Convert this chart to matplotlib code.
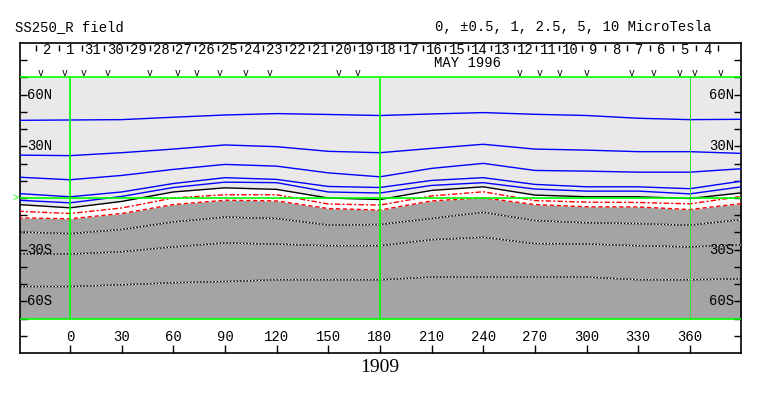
import numpy as np
import matplotlib.pyplot as plt

plt.rcParams['font.family'] = ['Liberation Mono', 'DejaVu Sans Mono']

# longitude of the samples (deg), -30 .. 390
lons = [-30, 0, 30, 60, 90, 120, 150, 180, 210, 240, 270, 300, 330, 360, 390]

# latitude of each contour level (MicroTesla)
b_p10 = [45.1, 45.3, 45.5, 46.9, 48.2, 49.0, 48.5, 47.9, 48.8, 49.6, 48.6, 47.9, 46.3, 45.5, 45.7]
b_p5 = [24.9, 24.6, 26.3, 28.4, 30.8, 29.8, 27.1, 26.3, 28.8, 31.2, 28.4, 27.8, 26.9, 26.9, 25.9]
b_p2_5 = [12.1, 10.6, 13.1, 16.6, 19.5, 18.5, 14.6, 12.3, 17.2, 20.1, 16.0, 15.6, 15.0, 15.0, 17.0]
b_p1 = [2.6, 0.7, 3.5, 8.4, 11.8, 10.8, 6.7, 6.1, 10.2, 11.8, 7.9, 6.5, 6.5, 5.4, 9.8]
b_p0_5 = [-1.3, -2.8, 0.9, 6.1, 9.2, 8.9, 3.5, 2.9, 7.3, 8.9, 5.2, 4.0, 4.0, 2.4, 6.5]
b_0 = [-3.8, -5.7, -2.0, 3.5, 5.9, 5.0, 0.0, -0.9, 4.4, 6.5, 1.7, 0.7, 0.7, -0.3, 3.0]
b_m0_5 = [-7.7, -9.0, -5.8, 0.0, 1.9, 1.9, -3.5, -4.1, 1.2, 3.6, -1.5, -2.4, -2.6, -3.4, 0.9]
b_m1 = [-11.5, -12.1, -9.0, -3.8, -1.3, -1.7, -6.1, -7.0, -1.7, 0.1, -3.8, -5.1, -5.2, -6.7, -3.2]
b_m2_5 = [-19.7, -20.7, -18.3, -13.9, -11.1, -11.9, -15.7, -15.4, -11.9, -8.3, -13.1, -14.4, -14.9, -15.8, -12.5]
b_m5 = [-32.5, -32.5, -31.2, -28.4, -26.1, -26.8, -27.7, -27.7, -24.2, -22.8, -26.5, -26.7, -27.7, -28.4, -27.1]
b_m10 = [-51.4, -51.4, -50.4, -49.2, -48.5, -47.5, -47.5, -47.5, -45.9, -45.9, -45.9, -45.9, -47.5, -47.5, -46.9]

# days of May 1996 along the top band (west to east)
days = ["2", "1", "31", "30", "29", "28", "27", "26", "25", "24", "23", "22", "21", "20", "19",
        "18", "17", "16", "15", "14", "13", "12", "11", "10", "9", "8", "7", "6", "5", "4"]

# longitudes of the "v" marks
v_lons = [-17.0, -3.3, 8.1, 21.7, 46.5, 62.5, 73.6, 87.1, 102.2, 115.7, 156.2, 166.8,
          261.3, 272.5, 284.6, 300.1, 326.2, 339.1, 354.2, 362.9, 377.9]

lon_ticks = list(range(0, 361, 30))
lat_labels = [(60, "60N"), (30, "30N"), (-30, "30S"), (-60, "60S")]

W, H = 763, 396
fs = 10
fig = plt.figure(figsize=(W / 100, H / 100), dpi=100)
ax = fig.add_axes([20 / W, 43 / H, 721 / W, 310 / H])
x0, x1 = -29, 389.7
ax.set_xlim(x0, x1)
ax.set_ylim(-90, 90)

# background shading
ax.fill_between(lons, b_0, 70, color='#e9e9e9', lw=0, zorder=1)
ax.fill_between(lons, -70, b_m1, color='#a4a4a4', lw=0, zorder=1)

# contours
for b in [b_p10, b_p5, b_p2_5, b_p1, b_p0_5]:
    ax.plot(lons, b, color='#0000ff', lw=1.0, zorder=3)
ax.plot(lons, b_0, color='black', lw=1.0, zorder=3)
ax.plot(lons, b_m0_5, color='red', lw=1.0, dashes=(4, 1.5, 1.5, 1.5), zorder=3)
ax.plot(lons, b_m1, color='red', lw=1.0, dashes=(3, 2), zorder=3)
for b in [b_m2_5, b_m5, b_m10]:
    ax.plot(lons, b, color='black', lw=1.0, zorder=3)
    ax.plot(lons, b, color='white', lw=1.0, dashes=(1.2, 1.2), zorder=3)

# green frame / grid
ax.hlines([70, 0, -70], x0, x1, color='#00ff00', lw=1.2, zorder=5)
ax.vlines([0, 180], -70, 70, color='#00ff00', lw=1.2, zorder=5)
ax.vlines([360], -70, 70, color='#33dd33', lw=0.7, zorder=5)
ax.text(-31.5, 0, '>', color='#00ff00', fontsize=7, ha='center', va='center')

# ticks
ax.set_xticks(lon_ticks)
ax.set_xticklabels([])
ax.set_yticks(range(-80, 81, 10))
ax.set_yticklabels([])
ax.tick_params(axis='x', direction='in', length=6, width=1, bottom=True, top=False)
ax.tick_params(axis='y', direction='in', length=5, width=1, left=True, right=True)
for s in ax.spines.values():
    s.set_linewidth(1.2)

for lon in lon_ticks:
    ax.text(lon, -80.7, str(lon), ha='center', va='center', fontsize=fs)

for lat, txt in lat_labels:
    ax.text(-25, lat, txt, ha='left', va='center', fontsize=fs, zorder=6)
    ax.text(385.8, lat, txt, ha='right', va='center', fontsize=fs, zorder=6)

# top band: days
sep0, step = -19.7, 13.21
seps = [sep0 + step * k for k in range(len(days) + 1)]
ax.vlines(seps, 85.3, 88.9, color='black', lw=1)
for k, d in enumerate(days):
    ax.text(sep0 + step * (k + 0.5), 85.9, d, ha='center', va='center', fontsize=fs)
ax.text(231, 78.4, 'MAY 1996', ha='center', va='center', fontsize=fs)
for v in v_lons:
    ax.text(v, 72.3, 'v', ha='center', va='center', fontsize=7)

fig.text(15 / W, 1 - 27 / H, 'SS250_R field', ha='left', va='center', fontsize=fs)
fig.text(711 / W, 1 - 27 / H, '0, \u00b10.5, 1, 2.5, 5, 10 MicroTesla', ha='right', va='center', fontsize=fs)
fig.text(380 / W, 1 - 367 / H, '1909', ha='center', va='center', fontsize=14, family='Liberation Serif')

fig.savefig('out.png', dpi=100)
